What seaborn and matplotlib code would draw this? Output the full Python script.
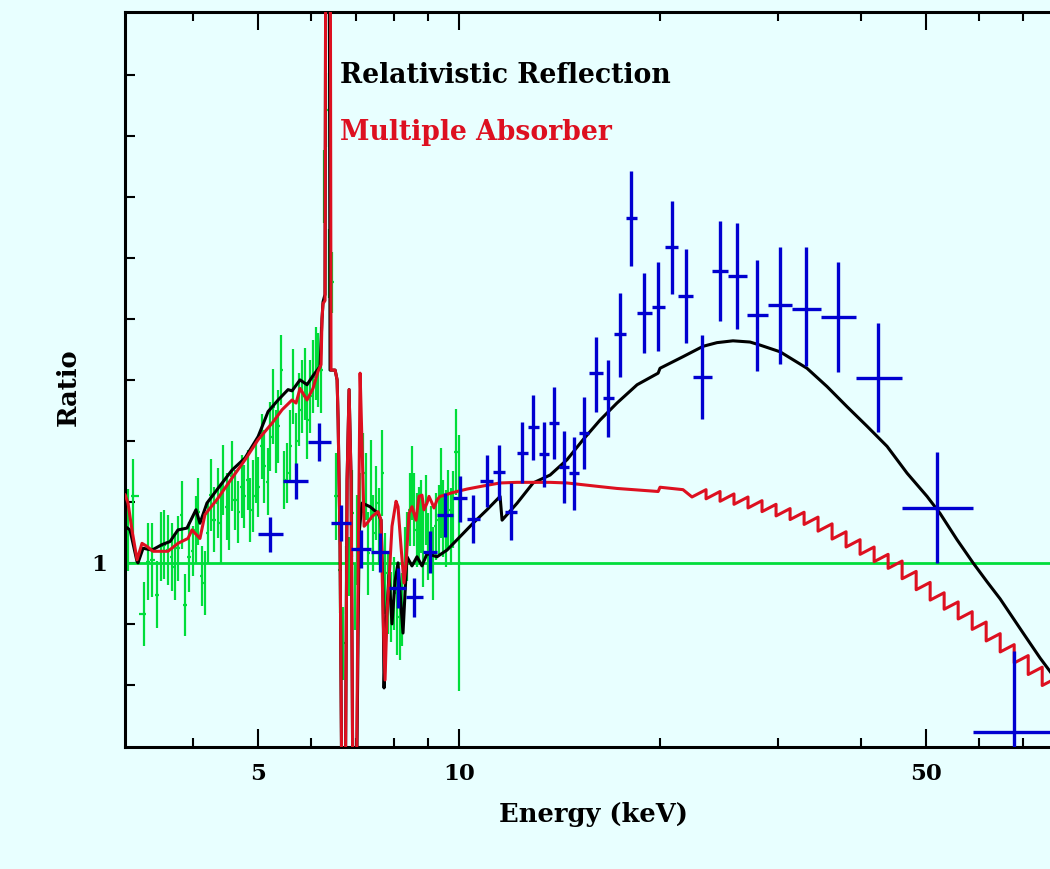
import numpy as np
import matplotlib
matplotlib.use("Agg")
import matplotlib.pyplot as plt
import seaborn as sns
from matplotlib.ticker import FixedLocator, FixedFormatter, NullFormatter

# ---------------- data ----------------
# XMM-like spectrum ratio (green): energy (keV), ratio, 1-sigma error
green_e = [3.193, 3.249, 3.374, 3.421, 3.469, 3.529, 3.578, 3.615, 3.665, 3.716,
           3.754, 3.793, 3.846, 3.886, 3.940, 3.994, 4.036, 4.064, 4.120, 4.163,
           4.206, 4.250, 4.294, 4.354, 4.399, 4.430, 4.491, 4.522, 4.570, 4.618,
           4.666, 4.732, 4.764, 4.831, 4.864, 4.915, 4.966, 5.001, 5.070, 5.105,
           5.176, 5.212, 5.266, 5.321, 5.358, 5.413, 5.469, 5.526, 5.584, 5.641,
           5.700, 5.759, 5.819, 5.879, 5.920, 5.981, 6.044, 6.107, 6.149, 6.213,
           6.278, 6.321, 6.387, 6.453, 6.544, 6.635, 6.704, 6.774, 6.844, 6.915,
           6.987, 7.036, 7.109, 7.183, 7.257, 7.307, 7.383, 7.434, 7.511, 7.589,
           7.668, 7.748, 7.828, 7.909, 7.991, 8.074, 8.158, 8.215, 8.300, 8.357,
           8.444, 8.502, 8.561, 8.650, 8.710, 8.770, 8.831, 8.923, 8.985, 9.078,
           9.141, 9.236, 9.332, 9.397, 9.462, 9.561, 9.626, 9.727, 9.794, 9.895,
           10.0]
green_r = [1.054, 1.110, 0.916, 1.002, 1.005, 0.948, 1.027, 1.030, 1.021, 1.010,
           0.994, 1.024, 1.079, 0.931, 1.010, 1.019, 1.054, 1.084, 0.978, 0.967,
           1.049, 1.112, 1.071, 1.098, 1.065, 1.136, 1.092, 1.076, 1.142, 1.103,
           1.084, 1.125, 1.109, 1.136, 1.087, 1.109, 1.147, 1.125, 1.191, 1.158,
           1.133, 1.207, 1.256, 1.199, 1.224, 1.316, 1.136, 1.147, 1.191, 1.289,
           1.199, 1.251, 1.273, 1.294, 1.234, 1.273, 1.305, 1.327, 1.316, 1.316,
           1.617, 1.742, 1.491, 1.460, 1.109, 0.989, 0.868, 0.972, 0.994, 1.081,
           0.945, 1.038, 1.087, 1.147, 1.125, 1.016, 1.136, 1.049, 1.098, 1.060,
           1.147, 0.983, 0.950, 0.928, 0.950, 0.912, 0.901, 0.923, 0.999, 1.027,
           1.087, 1.131, 1.087, 1.054, 1.065, 1.076, 1.027, 1.087, 1.027, 1.038,
           0.999, 1.060, 1.071, 1.114, 1.073, 1.057, 1.087, 1.060, 1.087, 1.182,
           1.000]
green_err = [0.067, 0.061, 0.053, 0.063, 0.061, 0.055, 0.056, 0.056, 0.057, 0.056,
             0.055, 0.053, 0.056, 0.051, 0.057, 0.041, 0.056, 0.055, 0.049, 0.052,
             0.049, 0.059, 0.053, 0.057, 0.066, 0.057, 0.055, 0.055, 0.057, 0.049,
             0.051, 0.052, 0.052, 0.049, 0.052, 0.059, 0.049, 0.049, 0.053, 0.060,
             0.055, 0.057, 0.061, 0.052, 0.060, 0.057, 0.048, 0.049, 0.060, 0.061,
             0.046, 0.060, 0.060, 0.059, 0.063, 0.060, 0.060, 0.060, 0.060, 0.071,
             0.060, 0.061, 0.057, 0.050, 0.071, 0.071, 0.060, 0.055, 0.049, 0.071,
             0.055, 0.074, 0.060, 0.066, 0.055, 0.068, 0.066, 0.063, 0.060, 0.063,
             0.070, 0.066, 0.066, 0.057, 0.060, 0.063, 0.060, 0.060, 0.060, 0.057,
             0.060, 0.060, 0.060, 0.060, 0.060, 0.060, 0.066, 0.057, 0.055, 0.055,
             0.060, 0.055, 0.057, 0.074, 0.063, 0.063, 0.066, 0.063, 0.063, 0.071,
             0.210]

# Hard X-ray ratio (blue): energy, bin low/high, ratio, error low/high
blue_e = [5.21, 5.70, 6.17, 6.66, 7.13, 7.62, 8.10, 8.56, 9.05, 9.53,
          10.03, 10.50, 11.01, 11.48, 11.96, 12.43, 12.91, 13.41, 13.88, 14.36,
          14.87, 15.39, 16.04, 16.72, 17.42, 18.10, 18.93, 19.86, 20.84, 21.87,
          23.12, 24.60, 26.08, 27.95, 30.26, 33.09, 36.96, 42.42, 51.99, 67.79]
blue_elo = [5.00, 5.45, 5.94, 6.43, 6.89, 7.38, 7.86, 8.33, 8.83, 9.27,
            9.80, 10.28, 10.75, 11.24, 11.72, 12.22, 12.69, 13.18, 13.64, 14.12,
            14.61, 15.12, 15.65, 16.43, 17.07, 17.79, 18.48, 19.46, 20.35, 21.28,
            22.41, 23.93, 25.28, 27.00, 29.03, 31.53, 34.85, 39.33, 46.07, 58.87]
blue_ehi = [5.45, 5.94, 6.43, 6.89, 7.38, 7.86, 8.33, 8.83, 9.27, 9.80,
            10.28, 10.75, 11.24, 11.72, 12.22, 12.69, 13.18, 13.64, 14.12, 14.61,
            15.12, 15.65, 16.43, 17.07, 17.79, 18.48, 19.46, 20.35, 21.28, 22.41,
            23.93, 25.28, 27.00, 29.03, 31.53, 34.85, 39.33, 46.07, 58.87, 78.0]
blue_r = [1.048, 1.134, 1.198, 1.066, 1.023, 1.018, 0.959, 0.944, 1.018, 1.079,
          1.107, 1.072, 1.134, 1.149, 1.084, 1.180, 1.223, 1.179, 1.230, 1.157,
          1.148, 1.213, 1.311, 1.270, 1.375, 1.566, 1.410, 1.420, 1.518, 1.438,
          1.305, 1.479, 1.470, 1.407, 1.423, 1.416, 1.403, 1.303, 1.090, 0.723]
blue_rlo = [1.018, 1.105, 1.167, 1.036, 0.992, 0.985, 0.926, 0.911, 0.984, 1.043,
            1.067, 1.033, 1.092, 1.103, 1.038, 1.131, 1.169, 1.125, 1.170, 1.098,
            1.087, 1.154, 1.248, 1.207, 1.305, 1.487, 1.344, 1.348, 1.441, 1.361,
            1.236, 1.397, 1.384, 1.315, 1.326, 1.323, 1.313, 1.215, 1.000, 0.550]
blue_rhi = [1.075, 1.164, 1.230, 1.095, 1.054, 1.049, 0.992, 0.975, 1.052, 1.115,
            1.143, 1.111, 1.177, 1.193, 1.131, 1.231, 1.275, 1.231, 1.289, 1.216,
            1.207, 1.272, 1.370, 1.333, 1.443, 1.643, 1.475, 1.493, 1.593, 1.515,
            1.374, 1.561, 1.557, 1.497, 1.518, 1.518, 1.493, 1.393, 1.182, 0.856]

# Relativistic reflection model (black)
black_e = [3.160, 3.215, 3.294, 3.305, 3.363, 3.469, 3.591, 3.691, 3.793, 3.913,
           4.036, 4.092, 4.192, 4.354, 4.570, 4.781, 5.001, 5.176, 5.358, 5.545,
           5.622, 5.779, 5.920, 6.044, 6.192, 6.234, 6.256, 6.299, 6.321, 6.387,
           6.409, 6.522, 6.567, 6.590, 6.635, 6.681, 6.751, 6.797, 6.844, 6.892,
           6.939, 7.011, 7.085, 7.158, 7.358, 7.563, 7.642, 7.694, 7.721, 7.775,
           7.855, 7.936, 8.019, 8.102, 8.186, 8.243, 8.300, 8.357, 8.502, 8.650,
           8.800, 8.954, 9.268, 9.594, 10.035, 10.495, 11.01, 11.52, 11.60, 12.22,
           12.91, 13.69, 14.51, 15.34, 16.26, 17.24, 18.48, 19.87, 20.00, 21.65,
           23.20, 24.34, 25.72, 27.28, 28.24, 30.26, 33.20, 35.58, 38.12, 40.84,
           43.76, 46.89, 50.23, 52.54, 55.70, 58.87, 61.78, 64.63, 69.96, 74.18,
           76.78, 80.0]
black_r = [1.060, 1.054, 1.002, 1.000, 1.024, 1.021, 1.030, 1.035, 1.054, 1.057,
           1.087, 1.065, 1.098, 1.122, 1.152, 1.172, 1.207, 1.248, 1.267, 1.284,
           1.282, 1.300, 1.292, 1.307, 1.322, 1.400, 1.428, 1.440, 2.300, 2.300,
           1.316, 1.316, 1.300, 1.234, 1.027, 0.550, 0.550, 1.136, 1.284, 1.136,
           0.550, 0.550, 1.050, 1.098, 1.092, 1.081, 1.070, 0.950, 0.795, 0.900,
           0.980, 0.900, 0.970, 1.000, 0.930, 0.885, 0.950, 1.010, 0.995, 1.010,
           0.995, 1.015, 1.010, 1.021, 1.043, 1.065, 1.087, 1.109, 1.070, 1.098,
           1.131, 1.144, 1.169, 1.202, 1.234, 1.262, 1.292, 1.311, 1.319, 1.338,
           1.355, 1.361, 1.364, 1.362, 1.357, 1.346, 1.319, 1.289, 1.256, 1.224,
           1.191, 1.147, 1.109, 1.081, 1.038, 1.000, 0.969, 0.941, 0.885, 0.844,
           0.822, 0.795]

# Multiple absorber model (red): smooth part
red_e = [3.160, 3.193, 3.237, 3.294, 3.351, 3.409, 3.481, 3.665, 3.793, 3.926,
         3.981, 4.092, 4.163, 4.354, 4.570, 4.781, 5.001, 5.248, 5.432, 5.622,
         5.700, 5.779, 5.920, 6.044, 6.149, 6.213, 6.234, 6.256, 6.299, 6.321,
         6.409, 6.431, 6.522, 6.567, 6.590, 6.635, 6.681, 6.751, 6.797, 6.844,
         6.892, 6.939, 7.011, 7.060, 7.109, 7.158, 7.208, 7.282, 7.409, 7.563,
         7.642, 7.694, 7.748, 7.801, 7.855, 7.936, 8.047, 8.102, 8.186, 8.271,
         8.329, 8.415, 8.502, 8.561, 8.620, 8.710, 8.800, 8.861, 8.954, 9.016,
         9.110, 9.173, 9.268, 9.365, 9.528, 9.693, 9.929, 10.28, 10.86, 11.52,
         12.22, 12.91, 13.69, 14.51, 15.34, 16.26, 17.24, 18.23, 19.87, 20.00,
         21.65]
red_r = [1.112, 1.098, 1.054, 1.005, 1.032, 1.027, 1.019, 1.019, 1.032, 1.040,
         1.054, 1.040, 1.079, 1.106, 1.139, 1.169, 1.202, 1.229, 1.251, 1.267,
         1.262, 1.286, 1.267, 1.286, 1.314, 1.325, 1.400, 1.425, 1.430, 2.300,
         2.300, 1.316, 1.316, 1.300, 1.234, 1.027, 0.550, 0.550, 1.136, 1.284,
         1.136, 0.550, 0.550, 0.972, 1.311, 1.191, 1.060, 1.065, 1.076, 1.084,
         1.070, 0.917, 0.808, 0.917, 0.972, 1.060, 1.101, 1.092, 1.027, 0.967,
         0.999, 1.081, 1.092, 1.081, 1.070, 1.109, 1.111, 1.087, 1.098, 1.109,
         1.098, 1.090, 1.103, 1.109, 1.111, 1.114, 1.117, 1.121, 1.126, 1.131,
         1.132, 1.132, 1.132, 1.131, 1.128, 1.125, 1.122, 1.120, 1.117, 1.124,
         1.120]
# Multiple absorber model (red): binned high-energy part (bin edges, bin values)
red_bin_edges = [22.33, 23.44, 24.60, 25.81, 27.09, 28.43, 29.84, 31.32, 32.87, 34.49,
                 36.20, 37.99, 39.87, 41.85, 43.92, 46.09, 48.38, 50.77, 53.28, 55.92,
                 58.69, 61.59, 64.64, 67.84, 71.20, 74.72, 78.42]
red_bin_vals = [1.114, 1.111, 1.107, 1.102, 1.096, 1.090, 1.083, 1.077, 1.069, 1.058,
                1.045, 1.032, 1.020, 1.008, 0.997, 0.980, 0.962, 0.945, 0.930, 0.914,
                0.897, 0.878, 0.860, 0.842, 0.823, 0.805]

x_major_ticks = [5, 10, 50]
x_major_labels = ["5", "10", "50"]
x_minor_ticks = [4, 6, 7, 8, 9, 20, 30, 40, 60, 70]
y_major_ticks = [1.0]
y_major_labels = ["1"]
y_minor_ticks = [0.8, 0.9, 1.1, 1.2, 1.3, 1.4, 1.5, 1.6, 1.7, 1.8]

label_reflection = "Relativistic Reflection"
label_absorber = "Multiple Absorber"
xlabel = "Energy (keV)"
ylabel = "Ratio"

# ---------------- style ----------------
BG = "#E8FFFF"
GREEN = "#00DD3A"
BLUE = "#0000D0"
RED = "#DD1020"
BLACK = "#000000"

sns.set_style("ticks")
plt.rcParams["font.family"] = ["DejaVu Serif"]
plt.rcParams["font.weight"] = "bold"
plt.rcParams["text.color"] = BLACK
plt.rcParams["axes.labelcolor"] = BLACK
plt.rcParams["xtick.color"] = BLACK
plt.rcParams["ytick.color"] = BLACK

fig = plt.figure(figsize=(10.5, 8.69), dpi=100, facecolor=BG)
W, H = 1050.0, 869.0
ax = fig.add_axes([125 / W, (H - 746.5) / H, 937 / W, 734.5 / H])
ax.set_facecolor(BG)
ax.set_xscale("log")
ax.set_xlim(3.16, 80.0)
ax.set_ylim(0.699, 1.903)

# unity line
ax.axhline(1.0, color=GREEN, lw=2.0, zorder=2)

# green data with bin widths from neighbouring centres
ge = np.array(green_e)
mids = np.sqrt(ge[:-1] * ge[1:])
lo_edges = np.concatenate([[ge[0] ** 2 / mids[0]], mids])
hi_edges = np.concatenate([mids, [ge[-1] ** 2 / mids[-1]]])
ax.errorbar(ge, green_r, yerr=green_err, xerr=[ge - lo_edges, hi_edges - ge],
            fmt="none", ecolor=GREEN, elinewidth=1.6, capsize=0, zorder=2)

# models
sns.lineplot(x=black_e, y=black_r, ax=ax, sort=False, estimator=None,
             color=BLACK, lw=2.2, zorder=3)
zig_e, zig_r = [], []
tilt = 0.006
for lo, hi, v in zip(red_bin_edges[:-1], red_bin_edges[1:], red_bin_vals):
    zig_e += [lo, hi]
    zig_r += [v - tilt, v + tilt]
sns.lineplot(x=red_e + zig_e, y=red_r + zig_r, ax=ax, sort=False, estimator=None,
             color=RED, lw=2.2, zorder=4)

# blue data
be = np.array(blue_e)
br = np.array(blue_r)
ax.errorbar(be, br,
            xerr=[be - np.array(blue_elo), np.array(blue_ehi) - be],
            yerr=[br - np.array(blue_rlo), np.array(blue_rhi) - br],
            fmt="none", ecolor=BLUE, elinewidth=2.4, capsize=0, zorder=5)

# labels
ax.text(0.2295, 0.9033, label_reflection, transform=ax.transAxes, color=BLACK,
        fontsize=19.2, fontweight="bold", ha="left", va="baseline")
ax.text(0.2295, 0.8257, label_absorber, transform=ax.transAxes, color=RED,
        fontsize=19.2, fontweight="bold", ha="left", va="baseline")

ax.set_xlabel(xlabel, fontsize=18.5, fontweight="bold", labelpad=12, color=BLACK)
fig.text(68 / W, (H - 387) / H, ylabel, rotation=90, fontsize=18.5,
         fontweight="bold", ha="center", va="center", color=BLACK)

# ticks
ax.xaxis.set_major_locator(FixedLocator(x_major_ticks))
ax.xaxis.set_major_formatter(FixedFormatter(x_major_labels))
ax.xaxis.set_minor_locator(FixedLocator(x_minor_ticks))
ax.xaxis.set_minor_formatter(NullFormatter())
ax.yaxis.set_major_locator(FixedLocator(y_major_ticks))
ax.yaxis.set_major_formatter(FixedFormatter(y_major_labels))
ax.yaxis.set_minor_locator(FixedLocator(y_minor_ticks))
ax.yaxis.set_minor_formatter(NullFormatter())

ax.tick_params(axis="x", which="major", direction="in", length=13, width=1.5,
               top=True, bottom=True, labelsize=16.5, pad=12,
               colors=BLACK, labelcolor=BLACK)
ax.tick_params(axis="x", which="minor", direction="in", length=6.5, width=1.5,
               top=True, bottom=True, colors=BLACK)
ax.tick_params(axis="y", which="both", direction="in", length=7, width=1.5,
               left=True, right=True, labelsize=16.5, pad=13,
               colors=BLACK, labelcolor=BLACK)
for lab in ax.get_xticklabels() + ax.get_yticklabels():
    lab.set_fontweight("bold")
    lab.set_color(BLACK)

for s in ax.spines.values():
    s.set_linewidth(2.2)
    s.set_color(BLACK)

fig.savefig("out.png", dpi=100, facecolor=BG)
